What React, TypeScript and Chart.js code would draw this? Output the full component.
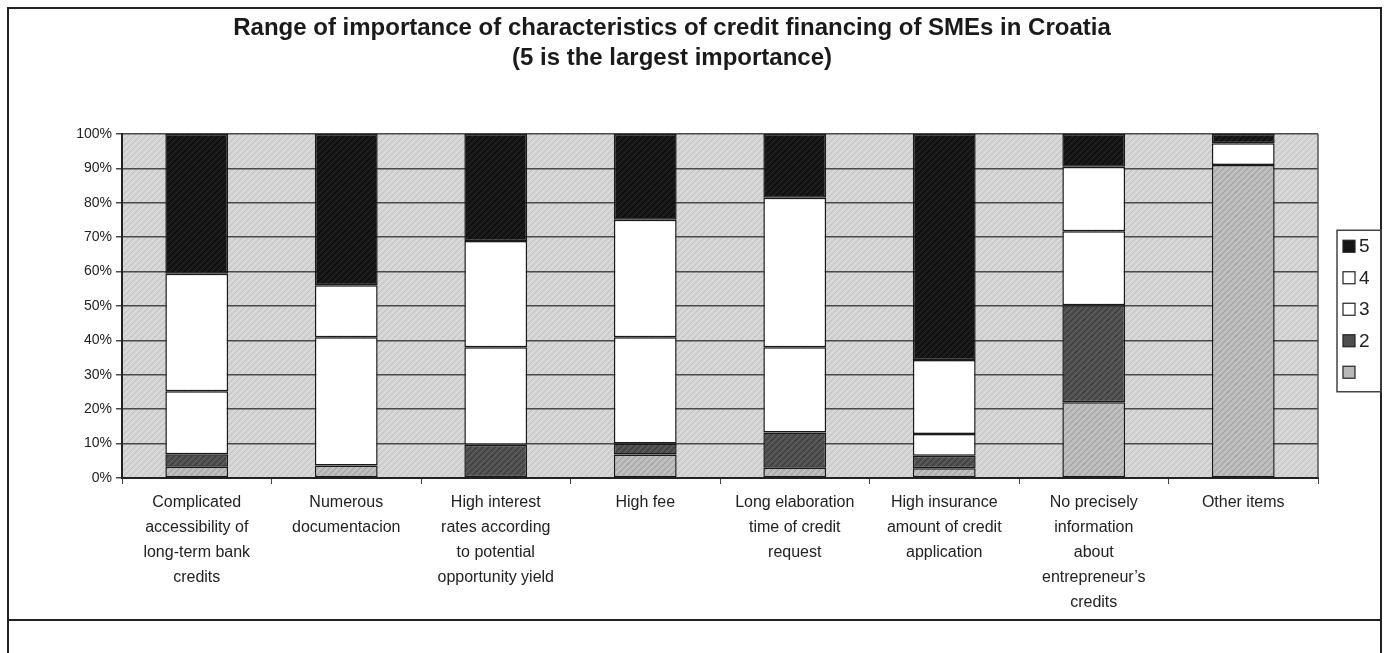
import React, { useEffect, useRef } from "react";
import { Chart, registerables } from "chart.js";

Chart.register(...registerables);

const categories: string[][] = [
  ["Complicated", "accessibility of", "long-term bank", "credits"],
  ["Numerous", "documentacion"],
  ["High interest", "rates according", "to potential", "opportunity yield"],
  ["High fee"],
  ["Long elaboration", "time of credit", "request"],
  ["High insurance", "amount of credit", "application"],
  ["No precisely", "information", "about", "entrepreneur’s", "credits"],
  ["Other items"],
];

const level1 = [3.3, 3.6, 0, 6.8, 3.0, 2.8, 22.0, 91.0];
const level2 = [3.6, 0, 9.7, 3.2, 10.2, 3.7, 28.2, 0];
const level3 = [18.3, 37.3, 28.3, 30.9, 24.8, 6.3, 21.5, 0];
const level4 = [34.2, 15.1, 30.9, 34.2, 43.5, 21.5, 18.8, 6.3];
const level5 = [40.6, 44.0, 31.1, 24.9, 18.5, 65.7, 9.5, 2.7];

const seriesLabels = ["", "2", "3", "4", "5"];
const titleLines = [
  "Range of importance of characteristics of credit financing of SMEs in Croatia",
  "(5 is the largest importance)",
];

const FONT = "'Liberation Sans', Arial, sans-serif";

function makePattern(base: string, light: string, dark: string): CanvasPattern | string {
  const c = document.createElement("canvas");
  c.width = 6;
  c.height = 6;
  const g = c.getContext("2d");
  if (!g) return base;
  g.fillStyle = base;
  g.fillRect(0, 0, 6, 6);
  for (let i = 0; i < 6; i++) {
    g.fillStyle = dark;
    g.fillRect(i, 5 - i, 1, 1);
    g.fillStyle = light;
    g.fillRect((i + 3) % 6, 5 - i, 1, 1);
  }
  const p = g.createPattern(c, "repeat");
  return p || base;
}

export default function App() {
  const ref = useRef<HTMLCanvasElement | null>(null);

  useEffect(() => {
    if (!ref.current) return;
    const plotBg = makePattern("#d3d3d3", "#dfdfdf", "#c5c5c5");
    const c1 = makePattern("#b8b8b8", "#cacaca", "#a2a2a2");
    const c2 = makePattern("#4e4e4e", "#626262", "#3c3c3c");
    const c5 = makePattern("#161616", "#242424", "#0c0c0c");
    const colors: any[] = [c1, c2, "#ffffff", "#ffffff", c5];
    const legendColors = ["#b8b8b8", "#4e4e4e", "#ffffff", "#ffffff", "#151515"];
    const values = [level1, level2, level3, level4, level5];

    const bgPlugin = {
      id: "plotBg",
      beforeDraw(chart: any) {
        const { ctx, chartArea: a } = chart;
        ctx.save();
        ctx.fillStyle = plotBg;
        ctx.fillRect(a.left, a.top, a.right - a.left, a.bottom - a.top);
        ctx.restore();
      },
      afterDraw(chart: any) {
        const { ctx, chartArea: a } = chart;
        ctx.save();
        ctx.strokeStyle = "#555555";
        ctx.lineWidth = 1.5;
        ctx.beginPath();
        ctx.moveTo(a.right, a.top);
        ctx.lineTo(a.right, a.bottom);
        ctx.stroke();
        ctx.restore();
      },
    };

    const titlePlugin = {
      id: "twoLineTitle",
      afterDraw(chart: any) {
        const { ctx } = chart;
        ctx.save();
        ctx.fillStyle = "#1a1a1a";
        ctx.font = `bold 24px ${FONT}`;
        ctx.textAlign = "center";
        ctx.textBaseline = "middle";
        const ys = [28, 58];
        titleLines.forEach((t, i) => {
          ctx.fillText(t, 672, ys[i]);
        });
        ctx.restore();
      },
    };

    const legendPlugin = {
      id: "customLegend",
      afterDraw(chart: any) {
        const { ctx, chartArea: a } = chart;
        const ds = chart.data.datasets;
        const rowH = 31.5;
        const boxW = 44;
        const boxH = rowH * ds.length + 4;
        const left = a.right + 19;
        const mid = (a.top + a.bottom) / 2 + 5;
        const top = mid - boxH / 2;
        ctx.save();
        ctx.strokeStyle = "#444444";
        ctx.lineWidth = 1.5;
        ctx.strokeRect(left, top, boxW, boxH);
        ctx.font = `19px ${FONT}`;
        ctx.textBaseline = "middle";
        ctx.textAlign = "left";
        for (let k = 0; k < ds.length; k++) {
          const i = ds.length - 1 - k;
          const cy = top + 16 + k * rowH;
          ctx.fillStyle = legendColors[i];
          ctx.fillRect(left + 6, cy - 6, 12, 12);
          ctx.strokeStyle = "#222222";
          ctx.lineWidth = 1.2;
          ctx.strokeRect(left + 6, cy - 6, 12, 12);
          ctx.fillStyle = "#222222";
          ctx.fillText(ds[i].label, left + 22, cy + 1);
        }
        ctx.restore();
      },
    };

    const chart = new Chart(ref.current, {
      type: "bar",
      data: {
        labels: categories,
        datasets: values.map((v, i) => ({
          label: seriesLabels[i],
          data: v,
          backgroundColor: colors[i],
          borderColor: "#1a1a1a",
          borderWidth: 1.5,
          borderSkipped: false,
          barPercentage: 0.42,
          categoryPercentage: 1,
        })),
      },
      options: {
        responsive: false,
        animation: false,
        layout: { padding: { left: 0, right: 71, top: 134, bottom: 33 } },
        plugins: {
          legend: { display: false },
          tooltip: { enabled: false },
          title: { display: false },
        },
        scales: {
          x: {
            stacked: true,
            grid: {
              offset: true,
              drawOnChartArea: false,
              drawTicks: true,
              tickLength: 6,
              color: "#444444",
            },
            border: { display: true, color: "#222222", width: 2 },
            ticks: {
              color: "#222222",
              font: { family: FONT, size: 16, lineHeight: 1.5625 },
              maxRotation: 0,
              minRotation: 0,
              autoSkip: false,
              padding: 6,
            },
            afterFit(scale: any) {
              scale.height = 142;
            },
          },
          y: {
            stacked: true,
            min: 0,
            max: 100,
            grid: {
              color: "#4a4a4a",
              lineWidth: 1.5,
              tickLength: 6,
            },
            border: { display: true, color: "#222222", width: 2 },
            ticks: {
              stepSize: 10,
              color: "#222222",
              font: { family: FONT, size: 14 },
              padding: 4,
              callback: (v: any) => `${v}%`,
            },
            afterFit(scale: any) {
              scale.width = 122;
            },
          },
        },
      },
      plugins: [bgPlugin, titlePlugin, legendPlugin],
    } as any);
    return () => chart.destroy();
  }, []);

  return (
    <div
      style={{
        position: "fixed",
        left: 0,
        top: 0,
        width: 1389,
        height: 653,
        overflow: "hidden",
        background: "#ffffff",
      }}
    >
      <div
        style={{
          position: "absolute",
          left: 7,
          top: 7,
          width: 1375,
          height: 614,
          border: "2px solid #222",
          boxSizing: "border-box",
        }}
      />
      <div
        style={{
          position: "absolute",
          left: 7,
          top: 619,
          width: 1375,
          height: 60,
          border: "2px solid #222",
          boxSizing: "border-box",
        }}
      />
      <canvas
        ref={ref}
        width={1389}
        height={653}
        style={{ position: "absolute", left: 0, top: 0, width: 1389, height: 653 }}
      />
    </div>
  );
}
